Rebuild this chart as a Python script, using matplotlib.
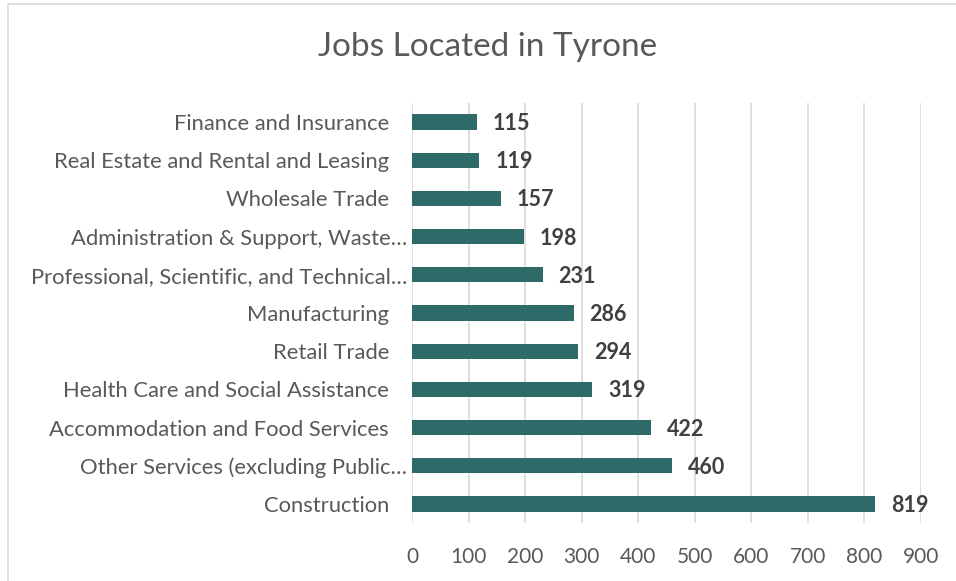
import matplotlib
matplotlib.use("Agg")
import matplotlib.pyplot as plt
from matplotlib.patches import Rectangle
from matplotlib.transforms import blended_transform_factory, ScaledTranslation

categories = [
    "Construction",
    "Other Services (excluding Public\u2026",
    "Accommodation and Food Services",
    "Health Care and Social Assistance",
    "Retail Trade",
    "Manufacturing",
    "Professional, Scientific, and Technical\u2026",
    "Administration & Support, Waste\u2026",
    "Wholesale Trade",
    "Real Estate and Rental and Leasing",
    "Finance and Insurance",
]
values = [819, 460, 422, 319, 294, 286, 231, 198, 157, 119, 115]
xticks = [0, 100, 200, 300, 400, 500, 600, 700, 800, 900]
title = "Jobs Located in Tyrone"

BAR = "#2E6B68"
TXT = "#595959"
FONT = "Lato"

W, H = 956, 581
fig = plt.figure(figsize=(W / 100, H / 100), dpi=100)
ax = fig.add_axes([412 / W, 1 - 523 / H, (921 - 412) / W, (523 - 103) / H])

ypos = list(range(len(categories)))
ax.barh(ypos, values, height=0.4, color=BAR, zorder=3)
ax.set_ylim(-0.5, len(categories) - 0.5)
ax.set_xlim(0, 900)
ax.set_xticks(xticks)
ax.set_xticklabels([str(t) for t in xticks], fontsize=15, color=TXT, family=FONT)
ax.set_yticks(ypos)
ax.set_yticklabels([])
ax.tick_params(axis="both", length=0)
ax.tick_params(axis="x", pad=17)
ax.grid(axis="x", color="#D9D9D9", linewidth=1.2, zorder=0)
for s in ax.spines.values():
    s.set_visible(False)

base = blended_transform_factory(ax.transAxes, ax.transData)
for y, lab in zip(ypos, categories):
    off = -5 if lab.endswith("\u2026") else -23
    tr = base + ScaledTranslation(off / 100, -2 / 100, fig.dpi_scale_trans)
    ax.text(0, y, lab, transform=tr, ha="right", va="center", fontsize=15.8,
            color=TXT, family=FONT)

vtr = ax.transData + ScaledTranslation(0, -1.5 / 100, fig.dpi_scale_trans)
for y, v in zip(ypos, values):
    ax.text(v + 28, y, str(v), va="center", ha="left", fontsize=15.5,
            fontweight="bold", color="#404040", family=FONT, transform=vtr)

fig.text(488 / W, 1 - 47 / H, title, ha="center", va="center", fontsize=24,
         color=TXT, family=FONT)

fig.patches.append(Rectangle((8 / W, -0.1), 1.2, 1 - 4 / H + 0.1,
                             transform=fig.transFigure, fill=False,
                             edgecolor="#D9D9D9", linewidth=1.2))

fig.savefig("out.png", dpi=100, facecolor="white")
